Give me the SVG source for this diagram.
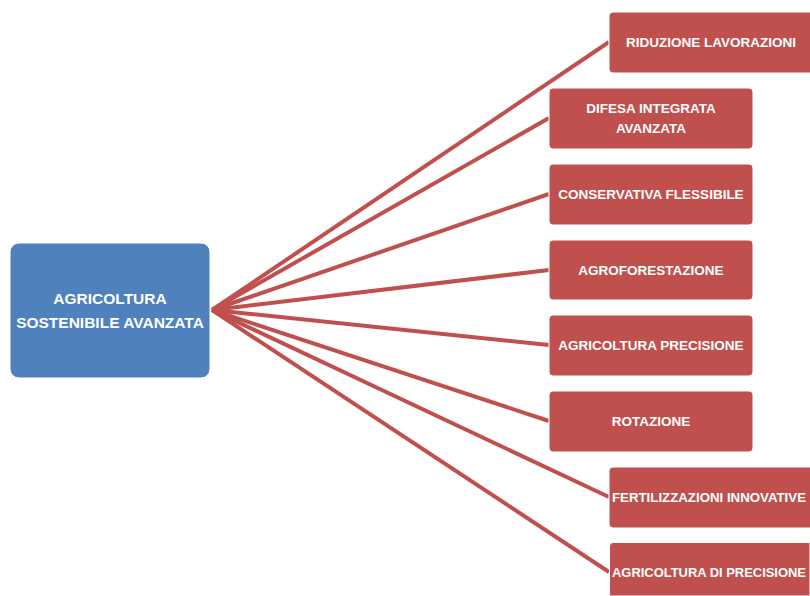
<svg xmlns="http://www.w3.org/2000/svg" width="810" height="596" viewBox="0 0 810 596">
<style>
.box{fill:#C0504D;stroke:#ffffff;stroke-width:1}
.t{font-family:"Liberation Sans",Arial,sans-serif;font-weight:bold;font-size:13.5px;fill:#ffffff;text-anchor:middle}
.c{font-family:"Liberation Sans",Arial,sans-serif;font-weight:bold;font-size:15.5px;fill:#ffffff;text-anchor:middle}
.ln{stroke:#C0504D;stroke-width:4;fill:none}
</style>
<rect width="810" height="596" fill="#ffffff"/>
<g id="connectors">
<line class="ln" x1="212" y1="310" x2="609" y2="42"/>
<line class="ln" x1="212" y1="310" x2="549" y2="118"/>
<line class="ln" x1="212" y1="310" x2="549" y2="194"/>
<line class="ln" x1="212" y1="310" x2="549" y2="270"/>
<line class="ln" x1="212" y1="310" x2="549" y2="345"/>
<line class="ln" x1="212" y1="310" x2="549" y2="421"/>
<line class="ln" x1="212" y1="310" x2="609" y2="497"/>
<line class="ln" x1="212" y1="310" x2="609" y2="572"/>
</g>
<g id="center">
<rect x="10" y="243" width="200" height="135" rx="9" fill="#4F81BD" stroke="#ffffff"/>
<text class="c" x="110" y="304">AGRICOLTURA</text>
<text class="c" x="110" y="328">SOSTENIBILE AVANZATA</text>
</g>
<g id="n1"><rect class="box" x="609" y="12" width="210" height="61" rx="4"/><text class="t" x="711" y="47">RIDUZIONE LAVORAZIONI</text></g>
<g id="n2"><rect class="box" x="549" y="88" width="204" height="61" rx="4"/><text class="t" x="651" y="113">DIFESA INTEGRATA</text><text class="t" x="651" y="133">AVANZATA</text></g>
<g id="n3"><rect class="box" x="549" y="164" width="204" height="61" rx="4"/><text class="t" x="651" y="199">CONSERVATIVA FLESSIBILE</text></g>
<g id="n4"><rect class="box" x="549" y="240" width="204" height="60" rx="4"/><text class="t" x="651" y="275">AGROFORESTAZIONE</text></g>
<g id="n5"><rect class="box" x="549" y="315" width="204" height="61" rx="4"/><text class="t" x="651" y="350">AGRICOLTURA PRECISIONE</text></g>
<g id="n6"><rect class="box" x="549" y="391" width="204" height="61" rx="4"/><text class="t" x="651" y="426">ROTAZIONE</text></g>
<g id="n7"><rect class="box" x="609" y="467" width="215" height="61" rx="4"/><text class="t" x="612" y="502" style="text-anchor:start" textLength="194" lengthAdjust="spacingAndGlyphs">FERTILIZZAZIONI INNOVATIVE</text></g>
<g id="n8"><path class="box" d="M613 542.5 H810 V596 H609.5 V546 Q609.5 542.5 613 542.5 Z"/><text class="t" x="612" y="577" style="text-anchor:start" textLength="194" lengthAdjust="spacingAndGlyphs">AGRICOLTURA DI PRECISIONE</text></g>
</svg>
